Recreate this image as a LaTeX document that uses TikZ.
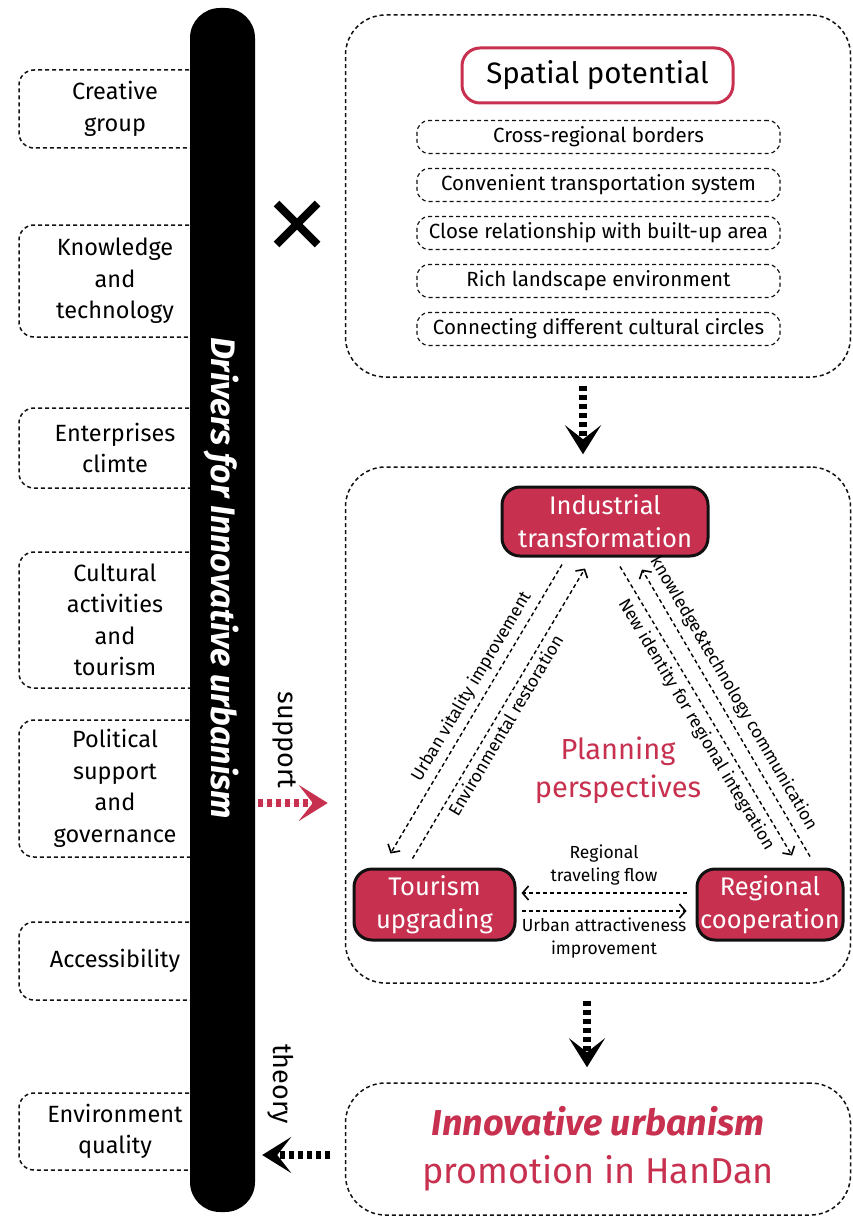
\documentclass[tikz,border=0pt]{standalone}
\usepackage{fontspec}
\setmainfont{Fira Sans}
\usetikzlibrary{
  arrows.meta,
  positioning,
  calc,
  shapes.misc
}
\definecolor{hdRed}{HTML}{C8304F}
\definecolor{hdInk}{HTML}{111111}
\tikzset{
  thindash/.style={line width=1.5pt, dash pattern=on 4pt off 3pt},
  drvbox/.style={
    draw=hdInk, thindash, rounded corners=15pt, minimum width=192pt,
    align=center, font=\fontsize{23.5}{31.5}\selectfont
  },
  frame/.style={draw=hdInk, thindash, rounded corners=40pt, minimum width=505pt},
  potential/.style={
    draw=hdInk, line width=1.2pt, dash pattern=on 4pt off 3pt, rounded corners=12pt,
    minimum width=363pt, minimum height=33pt, inner sep=0pt,
    font=\fontsize{20.5}{22}\selectfont
  },
  redbox/.style={
    draw=hdInk, line width=3pt, fill=hdRed, text=white, rounded corners=18pt,
    align=center, inner sep=0pt, font=\fontsize{25.5}{33}\selectfont
  },
  bigarrow/.style={
    line width=8pt, dash pattern=on 5pt off 4pt,
    -{Stealth[length=29pt, width=36pt, inset=14pt]}
  },
  flowarrow/.style={thindash, line width=1.4pt, -{Straight Barb[length=6pt, width=14pt, line width=1.6pt]}},
  flowtag/.style={font=\fontsize{17.5}{23}\selectfont, align=center, inner sep=3pt},
  sidetag/.style={rotate=-90, font=\fontsize{27}{30}\selectfont}
}
\begin{document}
\begin{tikzpicture}[x=1pt, y=-1pt]
  \useasboundingbox (0,0) rectangle (853,1217);

  % drivers on the left
  \node[drvbox, minimum height=78pt] (creative) at (115,109) {Creative\\group};
  \node[drvbox, minimum height=112pt] (knowledge) at (115,281) {Knowledge\\and\\technology};
  \node[drvbox, minimum height=80pt] (enterprise) at (115,448) {Enterprises\\climte};
  \node[drvbox, minimum height=136pt] (cultural) at (115,620) {Cultural\\activities\\and\\tourism};
  \node[drvbox, minimum height=137pt] (political) at (115,788.5) {Political\\support\\and\\governance};
  \node[drvbox, minimum height=78pt] (access) at (115,961) {Accessibility};
  \node[drvbox, minimum height=77pt] (envqual) at (115,1131.5) {Environment\\quality};

  % black bar
  \node[fill=black, rounded corners=30pt, minimum width=65pt, minimum height=1204pt] (bar) at (222.5,610) {};
  \node[rotate=-90, text=white, font=\fontsize{34}{36}\selectfont\bfseries\itshape] (bartitle) at (221,578) {Drivers for Innovative urbanism};

  \node[cross out, draw=black, line width=8pt, minimum size=33pt, inner sep=0pt] (times) at (297,224) {};

  % spatial potential
  \node[frame, minimum height=362pt] (spatial) at (598,196) {};
  \node[draw=hdRed, line width=3pt, rounded corners=18pt, minimum width=271pt, minimum height=55pt,
        font=\fontsize{29.5}{31}\selectfont] (spatialtitle) at (597.5,75.5) {Spatial potential};
  \node[potential] (borders) at (598.5,137) {Cross-regional borders};
  \node[potential] (transport) at (598.5,185) {Convenient transportation system};
  \node[potential] (builtup) at (598.5,233) {Close relationship with built-up area};
  \node[potential] (landscape) at (598.5,281) {Rich landscape environment};
  \node[potential] (circles) at (598.5,329) {Connecting different cultural circles};

  % planning perspectives
  \node[frame, minimum height=516pt] (planning) at (598,725) {};
  \node[redbox, minimum width=206pt, minimum height=69pt] (industrial) at (605,521.5) {Industrial\\transformation};
  \node[redbox, minimum width=161pt, minimum height=71pt] (tourism) at (434.5,904.5) {Tourism\\upgrading};
  \node[redbox, minimum width=146pt, minimum height=71pt] (regional) at (770,904.5) {Regional\\cooperation};
  \node[text=hdRed, align=center, font=\fontsize{29}{38}\selectfont] (perspect) at (618,770) {Planning\\perspectives};

  \draw[flowarrow] ([xshift=-43pt,yshift=-7pt]industrial.south) -- ([xshift=-44pt,yshift=14pt]tourism.north)
    node[flowtag, pos=0.45, sloped, above, inner sep=6pt] {Urban vitality improvement};
  \draw[flowarrow] ([xshift=-22pt,yshift=9pt]tourism.north) -- ([xshift=-20pt,yshift=-11pt]industrial.south)
    node[flowtag, pos=0.48, sloped, below, inner sep=4pt] {Environmental restoration};
  \draw[flowarrow] ([xshift=15pt,yshift=-9pt]industrial.south) -- ([xshift=22pt,yshift=12pt]regional.north)
    node[flowtag, pos=0.52, sloped, below, inner sep=6pt] {New identity for regional integration};
  \draw[flowarrow] ([xshift=40pt,yshift=11pt]regional.north) -- ([xshift=37pt,yshift=-12pt]industrial.south)
    node[flowtag, pos=0.54, sloped, above, inner sep=7pt] {knowledge\&technology communication};
  \draw[flowarrow] ([xshift=-9pt,yshift=11.5pt]regional.west) -- ([xshift=5pt,yshift=11.5pt]tourism.east)
    node[flowtag, midway, above=4pt] {Regional\\traveling flow};
  \draw[flowarrow] ([xshift=5pt,yshift=-6.5pt]tourism.east) -- ([xshift=-9pt,yshift=-6.5pt]regional.west)
    node[flowtag, midway, below=3pt] {Urban attractiveness\\improvement};

  % outcome
  \node[frame, minimum height=132pt, align=center, text=hdRed, font=\fontsize{36}{48}\selectfont] (innov) at (598,1149)
    {\textbf{\textit{Innovative urbanism}}\\promotion in HanDan};

  % big arrows
  \draw[bigarrow] ([xshift=-15pt,yshift=-8pt]spatial.south) -- ([xshift=-15pt,yshift=12pt]planning.north);
  \draw[bigarrow] ([xshift=-11pt,yshift=-17pt]planning.south) -- ([xshift=-11pt,yshift=15pt]innov.north);
  \coordinate (supY) at (0,803);
  \coordinate (thY) at (0,1155);
  \draw[bigarrow, draw=hdRed, fill=hdRed] ($(bar.east |- supY)+(3,0)$) -- ($(planning.west |- supY)+(-17,0)$);
  \draw[bigarrow] ($(innov.west |- thY)+(-15,0)$) -- ($(bar.east |- thY)+(7,0)$);

  \node[sidetag] (support) at (284,740) {support};
  \node[sidetag] (theory) at (281,1084) {theory};
\end{tikzpicture}
\end{document}
